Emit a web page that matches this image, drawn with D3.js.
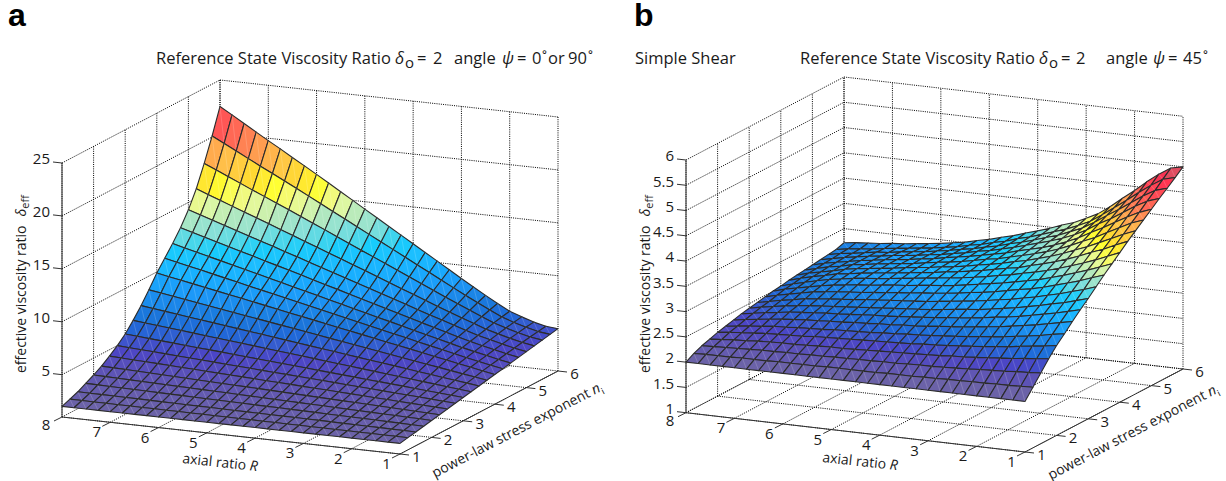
<!DOCTYPE html>
<html lang="en">
<head>
<meta charset="utf-8">
<title>Effective viscosity ratio surfaces</title>
<script src="https://d3js.org/d3.v7.min.js"></script>
<style>
  body { margin: 0; background: #fff; }
  text { font-family: "Open Sans", sans-serif; fill: #1a1a1a; }
  .panel-letter { font-family: "Liberation Sans", sans-serif; font-weight: bold; font-size: 32px; fill: #000; }
  .title { font-size: 16.5px; }
  .tick { font-size: 15px; }
  .axis-label { font-size: 14px; }
</style>
</head>
<body>
<svg id="chart" width="1226" height="481"></svg>
<script>
// grid of the surface
const rGrid = [1,1.25,1.5,1.75,2,2.25,2.5,2.75,3,3.25,3.5,3.75,4,4.25,4.5,4.75,5,5.25,5.5,5.75,6,6.25,6.5,6.75,7,7.25,7.5,7.75,8];
const nGrid = [1,1.25,1.5,1.75,2,2.25,2.5,2.75,3,3.25,3.5,3.75,4,4.25,4.5,4.75,5,5.25,5.5,5.75,6];

const rTicks = [1,2,3,4,5,6,7,8];
const nTicks = [1,2,3,4,5,6];
const zTicksA = [5,10,15,20,25];
const zTicksB = [1,1.5,2,2.5,3,3.5,4,4.5,5,5.5,6];

// panel a, one row per n, R going 1 to 8
const surfaceA = [
[2,2,2,2,2,2,2,2,2,2,2,2,2,2,2,2,2,2,2,2,2,2,2,2,2,2,2,2,2],
[2.15,2.16,2.16,2.17,2.17,2.18,2.18,2.19,2.19,2.2,2.2,2.21,2.21,2.22,2.22,2.23,2.23,2.24,2.24,2.25,2.25,2.26,2.26,2.27,2.27,2.28,2.28,2.29,2.3],
[2.3,2.31,2.32,2.33,2.34,2.35,2.36,2.38,2.39,2.4,2.41,2.42,2.43,2.44,2.45,2.46,2.47,2.48,2.49,2.5,2.51,2.52,2.54,2.55,2.56,2.57,2.58,2.59,2.6],
[2.45,2.47,2.49,2.51,2.53,2.55,2.57,2.59,2.61,2.63,2.65,2.67,2.69,2.7,2.72,2.74,2.76,2.78,2.8,2.82,2.84,2.86,2.88,2.9,2.92,2.94,2.96,2.98,3.0],
[2.6,2.63,2.66,2.69,2.71,2.74,2.77,2.8,2.83,2.86,2.89,2.91,2.94,2.97,3.0,3.03,3.06,3.09,3.11,3.14,3.17,3.2,3.23,3.26,3.29,3.31,3.34,3.37,3.4],
[2.75,2.79,2.83,2.87,2.91,2.95,2.99,3.03,3.06,3.1,3.14,3.18,3.22,3.26,3.3,3.34,3.38,3.42,3.46,3.5,3.54,3.58,3.61,3.65,3.69,3.73,3.77,3.81,3.85],
[2.9,2.95,3.01,3.06,3.11,3.17,3.22,3.28,3.33,3.38,3.44,3.49,3.54,3.6,3.65,3.7,3.76,3.81,3.86,3.92,3.97,4.03,4.08,4.13,4.19,4.24,4.29,4.35,4.4],
[3.05,3.12,3.19,3.26,3.33,3.4,3.47,3.54,3.61,3.68,3.75,3.82,3.89,3.96,4.03,4.09,4.16,4.23,4.3,4.37,4.44,4.51,4.58,4.65,4.72,4.79,4.86,4.93,5.0],
[3.2,3.29,3.38,3.47,3.56,3.65,3.74,3.83,3.91,4.0,4.09,4.18,4.27,4.36,4.45,4.54,4.63,4.72,4.81,4.9,4.99,5.08,5.16,5.25,5.34,5.43,5.52,5.61,5.7],
[3.35,3.47,3.58,3.7,3.81,3.93,4.05,4.16,4.28,4.39,4.51,4.63,4.74,4.86,4.98,5.09,5.21,5.32,5.44,5.56,5.67,5.79,5.9,6.02,6.14,6.25,6.37,6.48,6.6],
[3.5,3.65,3.79,3.94,4.09,4.23,4.38,4.53,4.67,4.82,4.96,5.11,5.26,5.4,5.55,5.7,5.84,5.99,6.14,6.28,6.43,6.57,6.72,6.87,7.01,7.16,7.31,7.45,7.6],
[3.65,3.83,4.01,4.19,4.37,4.55,4.73,4.91,5.09,5.27,5.45,5.63,5.81,5.99,6.18,6.36,6.54,6.72,6.9,7.08,7.26,7.44,7.62,7.8,7.98,8.16,8.34,8.52,8.7],
[3.8,4.02,4.24,4.45,4.67,4.89,5.11,5.33,5.54,5.76,5.98,6.2,6.41,6.63,6.85,7.07,7.29,7.5,7.72,7.94,8.16,8.38,8.59,8.81,9.03,9.25,9.46,9.68,9.9],
[3.95,4.17,4.4,4.63,4.87,5.12,5.37,5.62,5.88,6.12,6.37,6.63,6.88,7.13,7.39,7.63,7.89,8.14,8.39,8.65,8.89,9.14,9.4,9.65,9.9,10.16,10.4,10.65,10.9],
[4.1,4.32,4.56,4.81,5.06,5.34,5.62,5.9,6.19,6.48,6.77,7.04,7.33,7.62,7.91,8.19,8.48,8.77,9.05,9.34,9.62,9.91,10.19,10.48,10.76,11.04,11.33,11.61,11.9],
[4.25,4.46,4.72,4.98,5.25,5.55,5.88,6.19,6.51,6.84,7.17,7.49,7.82,8.14,8.47,8.8,9.12,9.44,9.78,10.1,10.42,10.74,11.07,11.39,11.71,12.03,12.36,12.68,13],
[4.4,4.6,4.86,5.14,5.43,5.78,6.14,6.51,6.87,7.24,7.62,7.99,8.36,8.74,9.11,9.48,9.86,10.23,10.6,10.98,11.35,11.73,12.09,12.46,12.83,13.19,13.56,13.94,14.3],
[4.55,4.75,5.01,5.31,5.62,6.03,6.43,6.86,7.28,7.72,8.15,8.58,9.01,9.45,9.89,10.32,10.76,11.18,11.62,12.05,12.49,12.91,13.34,13.76,14.19,14.61,15.05,15.47,15.9],
[4.7,4.87,5.14,5.47,5.83,6.29,6.77,7.26,7.76,8.27,8.78,9.3,9.81,10.32,10.82,11.33,11.84,12.35,12.87,13.38,13.89,14.39,14.89,15.39,15.88,16.39,16.9,17.4,17.9],
[4.85,4.99,5.27,5.61,6.0,6.53,7.09,7.66,8.25,8.84,9.45,10.04,10.64,11.24,11.84,12.43,13.03,13.63,14.22,14.83,15.42,16.01,16.59,17.18,17.75,18.34,18.93,19.52,20.1],
[5.0,5.1,5.37,5.74,6.15,6.76,7.4,8.07,8.74,9.44,10.13,10.83,11.52,12.22,12.91,13.61,14.3,15.0,15.69,16.39,17.08,17.76,18.43,19.12,19.77,20.45,21.14,21.83,22.5]
];

// panel b, same layout
const surfaceB = [
[2,2,2,2,2,2,2,2,2,2,2,2,2,2,2,2,2,2,2,2,2,2,2,2,2,2,2,2,2],
[2.2,2.19,2.18,2.18,2.17,2.17,2.16,2.16,2.15,2.15,2.14,2.14,2.14,2.13,2.13,2.13,2.13,2.13,2.12,2.12,2.12,2.12,2.11,2.11,2.11,2.1,2.1,2.1,2.09],
[2.4,2.38,2.37,2.35,2.34,2.33,2.31,2.3,2.29,2.28,2.28,2.27,2.26,2.26,2.25,2.25,2.24,2.24,2.23,2.23,2.22,2.22,2.21,2.21,2.2,2.19,2.18,2.17,2.16],
[2.6,2.57,2.55,2.52,2.5,2.48,2.46,2.44,2.43,2.41,2.4,2.39,2.38,2.37,2.36,2.35,2.34,2.33,2.33,2.32,2.31,2.3,2.3,2.29,2.28,2.26,2.25,2.23,2.21],
[2.78,2.74,2.71,2.68,2.64,2.62,2.59,2.57,2.55,2.53,2.51,2.5,2.48,2.47,2.46,2.45,2.44,2.43,2.42,2.41,2.4,2.38,2.37,2.36,2.35,2.33,2.31,2.29,2.26],
[2.93,2.89,2.84,2.8,2.77,2.73,2.7,2.68,2.65,2.63,2.61,2.59,2.57,2.56,2.54,2.53,2.51,2.5,2.49,2.48,2.46,2.45,2.44,2.42,2.41,2.38,2.36,2.33,2.3],
[3.09,3.04,2.99,2.94,2.9,2.86,2.82,2.79,2.76,2.73,2.71,2.69,2.66,2.64,2.63,2.61,2.6,2.58,2.57,2.55,2.54,2.52,2.51,2.49,2.47,2.44,2.41,2.38,2.34],
[3.24,3.18,3.12,3.07,3.02,2.97,2.93,2.9,2.86,2.83,2.8,2.78,2.75,2.73,2.71,2.69,2.67,2.66,2.64,2.62,2.6,2.59,2.57,2.55,2.53,2.49,2.46,2.42,2.38],
[3.38,3.31,3.24,3.19,3.13,3.08,3.03,2.99,2.95,2.91,2.89,2.86,2.83,2.8,2.78,2.76,2.74,2.72,2.7,2.68,2.66,2.64,2.62,2.6,2.57,2.54,2.5,2.46,2.41],
[3.53,3.45,3.38,3.31,3.25,3.19,3.14,3.09,3.05,3.01,2.97,2.94,2.91,2.88,2.85,2.83,2.81,2.79,2.77,2.75,2.72,2.7,2.68,2.65,2.63,2.58,2.54,2.49,2.44],
[3.68,3.6,3.51,3.44,3.37,3.3,3.24,3.2,3.15,3.1,3.06,3.03,2.99,2.96,2.93,2.91,2.88,2.86,2.83,2.81,2.78,2.76,2.74,2.71,2.68,2.63,2.58,2.53,2.47],
[3.82,3.73,3.64,3.56,3.48,3.41,3.34,3.29,3.24,3.19,3.15,3.11,3.07,3.03,3.0,2.98,2.95,2.92,2.9,2.87,2.84,2.82,2.79,2.76,2.72,2.67,2.62,2.57,2.5],
[3.96,3.86,3.76,3.67,3.59,3.51,3.44,3.38,3.33,3.27,3.23,3.18,3.14,3.1,3.07,3.04,3.01,2.98,2.95,2.92,2.89,2.87,2.84,2.8,2.76,2.71,2.65,2.59,2.52],
[4.1,4.0,3.89,3.8,3.7,3.61,3.53,3.46,3.4,3.33,3.29,3.24,3.19,3.15,3.11,3.08,3.04,3.01,2.98,2.95,2.92,2.89,2.86,2.82,2.79,2.73,2.68,2.62,2.55],
[4.23,4.13,4.02,3.91,3.8,3.71,3.61,3.53,3.46,3.39,3.34,3.28,3.23,3.19,3.14,3.1,3.07,3.03,3.0,2.97,2.93,2.9,2.87,2.84,2.8,2.74,2.69,2.64,2.57],
[4.36,4.27,4.15,4.03,3.9,3.8,3.69,3.59,3.51,3.44,3.38,3.32,3.26,3.22,3.17,3.12,3.08,3.05,3.01,2.97,2.94,2.91,2.88,2.84,2.81,2.75,2.71,2.65,2.59],
[4.49,4.4,4.28,4.15,4.01,3.89,3.76,3.65,3.56,3.48,3.42,3.36,3.29,3.24,3.19,3.14,3.1,3.06,3.01,2.98,2.94,2.91,2.88,2.84,2.81,2.76,2.72,2.67,2.61],
[4.62,4.54,4.41,4.26,4.11,3.98,3.83,3.71,3.61,3.53,3.46,3.39,3.32,3.26,3.2,3.16,3.1,3.06,3.01,2.98,2.94,2.91,2.88,2.84,2.81,2.77,2.73,2.68,2.63],
[4.74,4.67,4.53,4.37,4.21,4.06,3.9,3.76,3.66,3.56,3.49,3.41,3.34,3.28,3.21,3.16,3.1,3.06,3.01,2.97,2.93,2.9,2.87,2.83,2.81,2.77,2.73,2.7,2.65],
[4.87,4.81,4.66,4.49,4.31,4.14,3.97,3.81,3.7,3.6,3.52,3.44,3.36,3.3,3.22,3.17,3.1,3.06,3.0,2.96,2.92,2.89,2.86,2.83,2.8,2.76,2.74,2.71,2.67],
[5.0,4.95,4.8,4.62,4.42,4.24,4.05,3.88,3.76,3.65,3.57,3.48,3.4,3.33,3.25,3.19,3.12,3.07,3.01,2.97,2.93,2.9,2.87,2.84,2.82,2.79,2.77,2.75,2.72]
];

const colorStops = [0,.06,.12,.15,.18,.22,.29,.35,.39,.43,.46,.49,.53,.57,.6,.63,.67,.72,.77,.82,.87,.93,.97,1];
const colorRange = ["#6b62a8","#5f55b4","#4b45c6","#3a58cc","#2068d8","#1a78dc","#1c98f8","#18b0ff","#1cbeff","#18ccfc","#50d8e8","#88e0d8","#b0e8c0","#e0f8a0","#f4fa78","#ffff30","#ffdc30","#ffc448","#ff9c50","#ff6c55","#ff4c55","#ff2c50","#d05c68","#b06a6a"];

const svg = d3.select("#chart");

function drawPanel(cfg) {
    const g = svg.append("g");

    // orthographic view, each axis moves the point by a fixed screen vector
    const rx = d3.scaleLinear().domain([1, 8]).range([0, -cfg.rdx]);
    const ry = d3.scaleLinear().domain([1, 8]).range([0, -cfg.rdy]);
    const nx = d3.scaleLinear().domain([1, 6]).range([0, 158]);
    const ny = d3.scaleLinear().domain([1, 6]).range([0, -83]);
    const zy = d3.scaleLinear().domain([1, cfg.zMax]).range([0, -cfg.zPx]);
    const project = (r, n, z) => [cfg.ox + rx(r) + nx(n), cfg.oy + ry(r) + ny(n) + zy(z)];
    const color = d3.scaleLinear().domain(colorStops).range(colorRange).clamp(true);
    const tOf = d3.scaleLinear().domain([2, d3.max(cfg.surface.flat())]).range([0, 1]);

    const seg = (a, b, cls) => g.append("line")
        .attr("x1", a[0]).attr("y1", a[1]).attr("x2", b[0]).attr("y2", b[1])
        .attr("stroke", cls === "grid" ? "#000" : "#333")
        .attr("stroke-width", 1)
        .attr("stroke-dasharray", cls === "grid" ? "1 1.2" : null);

    const rMin = 1, rMax = 8, nMin = 1, nMax = 6, zMin = 1, zMax = cfg.zMax;

    // back walls and floor
    cfg.zTicks.forEach(z => {
        seg(project(rMax, nMin, z), project(rMax, nMax, z), "grid");
        seg(project(rMax, nMax, z), project(rMin, nMax, z), "grid");
    });
    nTicks.forEach(n => {
        seg(project(rMax, n, zMin), project(rMax, n, zMax), "grid");
        seg(project(rMax, n, zMin), project(rMin, n, zMin), "grid");
    });
    rTicks.forEach(r => {
        seg(project(r, nMax, zMin), project(r, nMax, zMax), "grid");
        seg(project(r, nMin, zMin), project(r, nMax, zMin), "grid");
    });

    // axis lines
    seg(project(rMax, nMin, zMin), project(rMax, nMin, zMax), "axis");
    seg(project(rMax, nMin, zMin), project(rMin, nMin, zMin), "axis");
    seg(project(rMin, nMin, zMin), project(rMin, nMax, zMin), "axis");

    // ticks and labels
    cfg.zTicks.forEach(z => {
        const p = project(rMax, nMin, z);
        seg(p, [p[0] - 9, p[1] - 1], "axis");
        g.append("text").attr("class", "tick").attr("x", p[0] - 12).attr("y", p[1] + 1.3)
            .attr("text-anchor", "end").text(z);
    });
    rTicks.forEach(r => {
        const p = project(r, nMin, zMin);
        seg(p, [p[0] - 8, p[1] + 4], "axis");
        // the corner label sits a little closer in
        const last = r === rMax;
        g.append("text").attr("class", "tick")
            .attr("x", p[0] - (last ? 16 : 13.5)).attr("y", p[1] + (last ? 13 : 15))
            .attr("text-anchor", "middle").text(r);
    });
    nTicks.forEach(n => {
        const p = project(rMin, n, zMin);
        seg(p, [p[0] + 9, p[1] + 1], "axis");
        g.append("text").attr("class", "tick").attr("x", p[0] + 16.5).attr("y", p[1] + 8)
            .attr("text-anchor", "middle").text(n);
    });

    // surface, far cells first
    const line = d3.line();
    for (let k = nGrid.length - 2; k >= 0; k--) {
        for (let i = rGrid.length - 2; i >= 0; i--) {
            const p00 = project(rGrid[i], nGrid[k], cfg.surface[k][i]);
            const p10 = project(rGrid[i + 1], nGrid[k], cfg.surface[k][i + 1]);
            const p11 = project(rGrid[i + 1], nGrid[k + 1], cfg.surface[k + 1][i + 1]);
            const p01 = project(rGrid[i], nGrid[k + 1], cfg.surface[k + 1][i]);
            g.append("path")
                .attr("d", line([p00, p10, p11, p01]) + "Z")
                .attr("fill", color(tOf(cfg.surface[k][i])))
                .attr("stroke", "#2b2b2b")
                .attr("stroke-width", 1.1)
                .attr("stroke-linejoin", "round");
            g.append("path")
                .attr("d", line([p00, p11]))
                .attr("stroke", "#fff")
                .attr("stroke-opacity", 0.28)
                .attr("stroke-width", 0.6);
        }
    }

    // letter and titles
    g.append("text").attr("class", "panel-letter").attr("x", cfg.letterX).attr("y", 26).text(cfg.letter);
    cfg.title.forEach(t => {
        g.append("text").attr("class", "title").attr("x", t.x).attr("y", t.y || 64)
            .style("font-style", t.italic ? "italic" : null)
            .style("font-size", t.size ? t.size + "px" : null)
            .text(t.s);
    });

    // axis titles
    const lx = g.append("text").attr("class", "axis-label")
        .attr("transform", `translate(${cfg.rLabel[0]},${cfg.rLabel[1]}) rotate(6.2)`);
    lx.append("tspan").text("axial ratio ");
    lx.append("tspan").style("font-style", "italic").text("R");

    const ln = g.append("text").attr("class", "axis-label")
        .attr("transform", `translate(${cfg.nLabel[0]},${cfg.nLabel[1]}) rotate(-27.6)`);
    ln.append("tspan").text("power-law stress exponent ");
    ln.append("tspan").style("font-style", "italic").text("n");
    ln.append("tspan").attr("dy", 4).style("font-size", "9px").text("i");

    const lz = g.append("text").attr("class", "axis-label")
        .attr("transform", `translate(${cfg.zLabel[0]},${cfg.zLabel[1]}) rotate(-90)`);
    lz.append("tspan").text("effective viscosity ratio");
    lz.append("tspan").attr("dx", 9).style("font-style", "italic").text("δ");
    lz.append("tspan").attr("dy", 3).style("font-size", "11px").text("eff");
}

drawPanel({
    letter: "a", letterX: 8,
    ox: 400, oy: 454, rdx: 338, rdy: 37, zMax: 25, zPx: 254,
    zTicks: zTicksA, surface: surfaceA,
    rLabel: [182, 463], nLabel: [435, 478], zLabel: [26, 373],
    title: [
        { x: 156, s: "Reference State Viscosity Ratio" },
        { x: 395, s: "δ", italic: true },
        { x: 405, y: 68, s: "o", size: 15 },
        { x: 417, s: "=" },
        { x: 433, s: "2" },
        { x: 454, s: "angle" },
        { x: 502, s: "ψ", italic: true },
        { x: 517, s: "=" },
        { x: 532, s: "0" },
        { x: 542, s: "˚" },
        { x: 548, s: "or" },
        { x: 568, s: "90" },
        { x: 588, s: "˚" }
    ]
});

drawPanel({
    letter: "b", letterX: 634,
    ox: 1025, oy: 452, rdx: 339, rdy: 39.3, zMax: 6, zPx: 252.7,
    zTicks: zTicksB, surface: surfaceB,
    rLabel: [822, 462], nLabel: [1051, 480], zLabel: [650, 373],
    title: [
        { x: 635, s: "Simple Shear" },
        { x: 800, s: "Reference State Viscosity Ratio" },
        { x: 1039, s: "δ", italic: true },
        { x: 1049, y: 68, s: "o", size: 15 },
        { x: 1061, s: "=" },
        { x: 1076, s: "2" },
        { x: 1106, s: "angle" },
        { x: 1153, s: "ψ", italic: true },
        { x: 1168, s: "=" },
        { x: 1183, s: "45" },
        { x: 1203, s: "˚" }
    ]
});
</script>
</body>
</html>
